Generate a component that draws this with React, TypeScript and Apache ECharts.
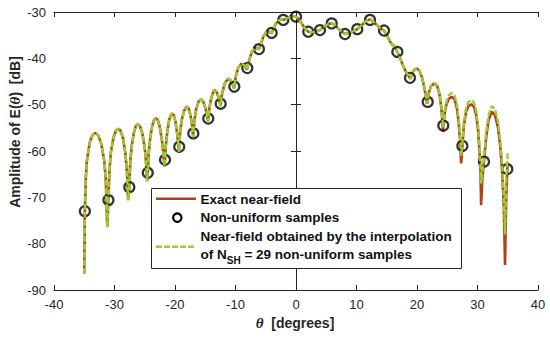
import React, { useEffect, useRef } from "react";
import * as echarts from "echarts";

const theta = [
  -35.0, -34.9, -34.75, -34.55, -34.1, -33.65, -33.2, -32.7, -32.2, -31.7, -31.45, -31.2,
  -31.0, -30.85, -30.6, -30.2, -29.8, -29.4, -29.0, -28.6, -28.2, -27.95, -27.75,
  -27.55, -27.4, -27.15, -26.8, -26.5, -26.15, -25.8, -25.4, -25.0, -24.8, -24.6,
  -24.5, -24.35, -24.1, -23.8, -23.5, -23.2, -22.85, -22.5, -22.15, -21.95, -21.75,
  -21.65, -21.5, -21.25, -20.95, -20.55, -20.2, -19.9, -19.65, -19.5, -19.35,
  -19.3, -19.15, -18.9, -18.5, -18.07, -17.75, -17.45, -17.2, -17.0,
  -16.97, -16.8, -16.5, -16.1, -15.7, -15.35, -15.0, -14.75, -14.55,
  -14.5, -14.3, -14.0, -13.55, -13.15, -12.8, -12.5,
  -12.45, -12.2, -11.8, -11.25, -10.85, -10.5, -10.25,
  -10.2, -9.95, -9.55, -9.05, -8.6, -8.1,
  -8.05, -7.7, -7.3, -6.8, -6.4, -6.12,
  -5.8, -5.4, -4.9, -4.5, -4.02,
  -3.7, -3.3, -2.8, -2.4, -2.1,
  -1.5, -0.9, -0.4, 0,
  0.5, 1.0, 1.5, 2.03,
  2.6, 3.2, 3.97,
  4.6, 5.3, 5.9,
  6.5, 7.2, 8.1,
  8.8, 9.5, 10.13,
  10.9, 11.6, 12.23,
  12.8, 13.5, 14.0, 14.55,
  15.0, 15.5, 15.9, 16.3, 16.75,
  17.2, 17.7, 18.3, 18.9,
  19.3, 19.6, 19.95, 20.4, 20.85, 21.2, 21.45, 21.65,
  21.77, 21.95, 22.3, 22.86, 23.35, 23.75, 24.05, 24.3,
  24.4, 24.6, 24.9, 25.3, 25.75, 26.2, 26.6, 26.9, 27.1, 27.3,
  27.5, 27.75, 28.1, 28.5, 28.95, 29.4, 29.8, 30.1, 30.35, 30.5, 30.6,
  30.8, 31.07, 31.4, 31.8, 32.35, 32.9, 33.4, 33.8, 34.1, 34.35, 34.55,
  34.75, 34.93, 35.0,
];

const exactDb = [
  -86.5, -73, -66, -62, -58.2, -56.6, -56.1, -56.6, -58.4, -62, -66, -76.4,
  -70.6, -64.5, -60.3, -57.3, -55.7, -55.2, -55.6, -57.2, -60.5, -64.5, -70.6,
  -67.8, -62.5, -58.8, -56.1, -54.7, -54.2, -54.6, -56.2, -59.3, -62.3, -66.5,
  -64.7, -60.5, -57.2, -54.8, -53.4, -52.9, -53.3, -54.9, -57.8, -60.3, -63.3,
  -61.9, -58.5, -55.6, -53.2, -51.9, -52.3, -53.8, -56.2, -58.0, -60.2,
  -59.1, -56.0, -53.4, -51.3, -50.4, -50.8, -52.2, -54.3, -57.0,
  -56.2, -53.5, -51.0, -49.3, -48.8, -49.3, -50.6, -52.0, -53.6,
  -53.0, -50.6, -48.5, -46.8, -47.2, -48.4, -50.3,
  -49.8, -47.5, -45.5, -44.4, -44.7, -45.5, -46.5,
  -46.1, -43.9, -42.0, -41.2, -41.4, -42.4,
  -42.1, -40.2, -38.6, -37.8, -37.9, -38.0,
  -36.9, -35.3, -34.4, -34.3, -34.5,
  -33.6, -32.5, -31.8, -31.6, -31.7,
  -31.4, -31.0, -30.9, -31.0,
  -31.6, -32.6, -33.6, -34.25,
  -34.4, -34.2, -33.9,
  -33.2, -32.6, -32.45,
  -32.9, -33.9, -34.75,
  -34.6, -34.1, -33.7,
  -32.8, -31.9, -31.6,
  -32.1, -33.0, -33.6, -34.0,
  -35.0, -36.3, -37.0, -37.4, -38.6,
  -40.0, -41.6, -43.2, -44.4,
  -43.0, -42.4, -42.2, -42.7, -44.2, -46.3, -48.0, -49.8,
  -49.4, -47.5, -46.0, -45.4, -46.0, -48.0, -51.0, -55.8,
  -54.0, -51.6, -49.8, -48.7, -48.3, -48.8, -50.8, -54.0, -57.5, -62.7,
  -58.9, -54.5, -51.6, -50.3, -49.9, -50.4, -52.3, -55.5, -60.5, -65.0, -71.7,
  -66.0, -62.3, -57.5, -53.5, -51.5, -52.3, -55.0, -59.5, -65.0, -72.0, -84.6,
  -70.0, -63.9, -62.5,
];

const interpDb = [
  -86.5, -73, -66, -62, -58.2, -56.6, -56.1, -56.6, -58.4, -62, -66, -76.5,
  -70.6, -64.5, -60.3, -57.3, -55.7, -55.2, -55.6, -57.2, -60.5, -64.5, -70.6,
  -67.8, -62.5, -58.8, -56.1, -54.7, -54.2, -54.6, -56.2, -59.3, -62.3, -66.5,
  -64.7, -60.5, -57.2, -54.8, -53.4, -52.9, -53.3, -54.9, -57.8, -60.3, -63.3,
  -61.9, -58.5, -55.6, -53.2, -51.9, -52.3, -53.8, -56.2, -58.0, -60.2,
  -59.1, -56.0, -53.4, -51.3, -50.4, -50.8, -52.2, -54.3, -57.0,
  -56.2, -53.5, -51.0, -49.3, -48.8, -49.3, -50.6, -52.0, -53.6,
  -53.0, -50.6, -48.5, -46.8, -47.2, -48.4, -50.3,
  -49.8, -47.5, -45.5, -44.4, -44.7, -45.5, -46.5,
  -46.1, -43.9, -42.0, -41.2, -41.4, -42.4,
  -42.1, -40.2, -38.6, -37.8, -37.9, -38.0,
  -36.9, -35.3, -34.4, -34.3, -34.5,
  -33.6, -32.5, -31.8, -31.6, -31.7,
  -31.4, -31.0, -30.9, -31.0,
  -31.6, -32.6, -33.6, -34.25,
  -34.4, -34.2, -33.9,
  -33.2, -32.6, -32.45,
  -32.9, -33.9, -34.75,
  -34.6, -34.1, -33.7,
  -32.8, -31.9, -31.6,
  -32.1, -33.0, -33.6, -34.0,
  -35.0, -36.3, -37.0, -37.4, -38.6,
  -40.0, -41.6, -43.2, -44.4,
  -43.0, -42.4, -42.2, -42.7, -44.2, -46.3, -48.0, -49.7,
  -49.4, -47.5, -46.0, -45.3, -45.9, -47.8, -50.6, -55.0,
  -53.8, -51.2, -49.2, -47.9, -47.5, -48.0, -50.0, -53.2, -56.5, -61.0,
  -58.5, -54.0, -50.8, -49.4, -49.0, -49.5, -51.4, -54.6, -59.5, -63.5, -67.0,
  -64.5, -61.5, -56.5, -52.4, -50.3, -51.0, -53.8, -58.3, -63.5, -70.0, -78.0,
  -66.0, -62.0, -60.2,
];

const sampleTheta = [
  -34.9, -31.0, -27.55, -24.5, -21.65, -19.3, -16.97, -14.5, -12.45, -10.2,
  -8.05, -6.12, -4.02, -2.1, 0, 2.03, 3.97, 5.9, 8.1, 10.13,
  12.23, 14.55, 16.75, 18.84, 21.77, 24.35, 27.5, 31.07, 34.93,
];
const sampleDb = [
  -73.0, -70.6, -67.8, -64.7, -61.9, -59.1, -56.2, -53.0, -49.8, -46.1,
  -42.1, -38.0, -34.5, -31.7, -31.0, -34.25, -33.9, -32.45, -34.75, -33.7,
  -31.7, -34.0, -38.6, -44.2, -49.4, -54.5, -58.9, -62.3, -63.9,
];

const legendLabels = [
  "Exact near-field",
  "Non-uniform samples",
  "Near-field obtained by the interpolation",
];

const RED = "#b0401c";
const GREEN = "#9acd32";
const AXIS = "#262626";
const FONT = "'Liberation Sans', Arial, sans-serif";

function measure(text: string, font: string): number {
  const c = document.createElement("canvas");
  const ctx = c.getContext("2d");
  if (!ctx) return text.length * 7;
  ctx.font = font;
  return ctx.measureText(text).width;
}

export default function App() {
  const ref = useRef<HTMLDivElement>(null);
  useEffect(() => {
    if (!ref.current) return;
    const chart = echarts.init(ref.current, null, { renderer: "svg" });
    const lf = 13.5;
    const legFont = `bold ${lf}px Liberation Sans`;
    const tx = 200.5;
    const wOfN = measure("of N", legFont);
    const wSH = measure("SH", `bold 10px Liberation Sans`);

    const axisCommon = {
      type: "value" as const,
      axisLine: { show: true, lineStyle: { color: AXIS, width: 1 } },
      axisTick: { show: true, inside: true, length: 5, lineStyle: { color: AXIS } },
      splitLine: { show: false },
    };

    chart.setOption({
      animation: false,
      backgroundColor: "#ffffff",
      grid: { left: 54, right: 12, top: 12, bottom: 48 },
      xAxis: [
        {
          ...axisCommon,
          position: "bottom",
          min: -40,
          max: 40,
          interval: 10,
          axisLabel: { fontSize: 13, color: AXIS, fontFamily: FONT, margin: 8 },
        },
        {
          ...axisCommon,
          position: "top",
          min: -40,
          max: 40,
          interval: 10,
          axisLabel: { show: false },
        },
      ],
      yAxis: [
        {
          ...axisCommon,
          position: "left",
          min: -90,
          max: -30,
          interval: 10,
          axisLabel: { fontSize: 13, color: AXIS, fontFamily: FONT, margin: 8 },
        },
        {
          ...axisCommon,
          position: "right",
          min: -90,
          max: -30,
          interval: 10,
          axisLabel: { show: false },
        },
      ],
      series: [
        {
          name: legendLabels[0],
          type: "line",
          data: theta.map((t, i) => [t, exactDb[i]]),
          showSymbol: false,
          lineStyle: { color: RED, width: 2.6 },
          z: 2,
        },
        {
          name: legendLabels[1],
          type: "scatter",
          data: sampleTheta.map((t, i) => [t, sampleDb[i]]),
          symbol: "circle",
          symbolSize: 10,
          itemStyle: { color: "rgba(0,0,0,0)", borderColor: "#000", borderWidth: 2.2 },
          z: 3,
        },
        {
          name: legendLabels[2],
          type: "line",
          data: theta.map((t, i) => [t, interpDb[i]]),
          showSymbol: false,
          lineStyle: { color: GREEN, width: 2.4, type: [6, 2] },
          z: 4,
        },
      ],
      graphic: [
        {
          type: "text",
          x: 15,
          y: 132,
          rotation: Math.PI / 2,
          style: {
            text: "{b|Amplitude of E(}{i|θ}{b|)  [dB]}",
            align: "center",
            verticalAlign: "middle",
            rich: {
              b: { fontFamily: FONT, fontWeight: "bold", fontSize: 14, fill: AXIS },
              i: { fontFamily: "'Liberation Serif', serif", fontWeight: "bold", fontStyle: "italic", fontSize: 15, fill: AXIS },
            },
          },
        },
        {
          type: "text",
          x: 295,
          y: 323,
          style: {
            text: "{i|θ}{b|  [degrees]}",
            align: "center",
            verticalAlign: "middle",
            rich: {
              b: { fontFamily: FONT, fontWeight: "bold", fontSize: 14, fill: AXIS },
              i: { fontFamily: "'Liberation Serif', serif", fontWeight: "bold", fontStyle: "italic", fontSize: 15, fill: AXIS },
            },
          },
        },
        {
          type: "rect",
          shape: { x: 151.5, y: 188.5, width: 310, height: 80 },
          style: { fill: "#ffffff", stroke: AXIS, lineWidth: 1 },
          z: 10,
        },
        {
          type: "line",
          shape: { x1: 156, y1: 198.7, x2: 196, y2: 198.7 },
          style: { stroke: RED, lineWidth: 2.6 },
          z: 11,
        },
        {
          type: "circle",
          shape: { cx: 177.3, cy: 217.7, r: 4.2 },
          style: { fill: "none", stroke: "#000", lineWidth: 2.2 },
          z: 11,
        },
        {
          type: "line",
          shape: { x1: 156, y1: 246.7, x2: 196, y2: 246.7 },
          style: { stroke: GREEN, lineWidth: 2.4, lineDash: [6, 2] },
          z: 11,
        },
        ...[legendLabels[0], legendLabels[1], legendLabels[2]].map((s, i) => ({
          type: "text",
          x: tx,
          y: [199, 217.5, 236.5][i],
          style: {
            text: s,
            font: legFont,
            fill: "#111",
            verticalAlign: "middle",
          },
          z: 11,
        })),
        {
          type: "text",
          x: tx,
          y: 254,
          style: { text: "of N", font: legFont, fill: "#111", verticalAlign: "middle" },
          z: 11,
        },
        {
          type: "text",
          x: tx + wOfN,
          y: 260,
          style: { text: "SH", font: "bold 10px Liberation Sans", fill: "#111", verticalAlign: "middle" },
          z: 11,
        },
        {
          type: "text",
          x: tx + wOfN + wSH,
          y: 254,
          style: { text: " = 29 non-uniform samples", font: legFont, fill: "#111", verticalAlign: "middle" },
          z: 11,
        },
      ],
    });
    return () => chart.dispose();
  }, []);
  return <div ref={ref} style={{ width: 550, height: 338, position: "absolute", left: 0, top: 0 }} />;
}
